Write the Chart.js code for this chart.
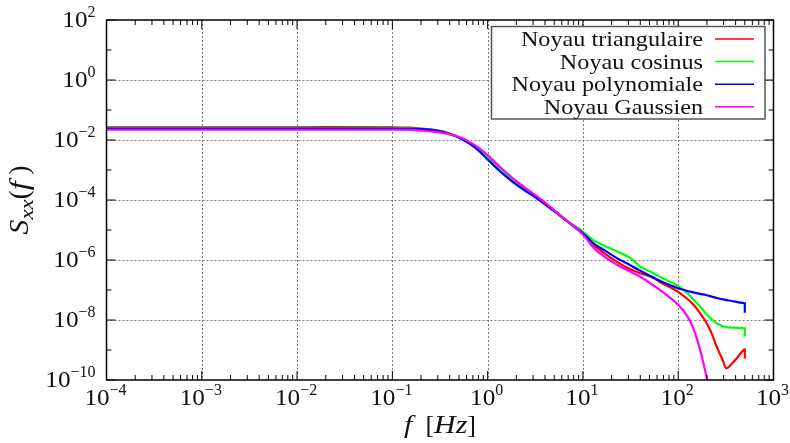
<!DOCTYPE html>
<html>
<head>
<meta charset="utf-8">
<script src="https://cdn.jsdelivr.net/npm/chart.js@4.4.1/dist/chart.umd.min.js"></script>
<style>
  html, body { margin: 0; padding: 0; background: #fff; }
  canvas { display: block; }
</style>
</head>
<body>
<canvas id="c" width="790" height="443"></canvas>
<script>
// frequencies [Hz] (last one repeated: each curve ends with a short vertical drop)
const freqs = [1e-4, 1e-3, 1e-2, 0.05, 0.1, 0.15, 0.2, 0.27, 0.35, 0.45, 0.55, 0.65, 0.8, 1, 1.3, 1.8, 2.5, 3.3, 4.9, 7.3,
               10, 13, 17.7, 24, 31, 40, 55, 70, 100, 125, 145, 170, 195, 225, 253, 290, 322, 365, 410, 455, 500, 500];

const triangulaire = [2.65e-2, 2.65e-2, 2.66e-2, 2.69e-2, 2.66e-2, 2.57e-2, 2.4e-2, 2.19e-2, 1.86e-2, 1.41e-2, 1.07e-2, 7.9e-3,
                      5.0e-3, 2.75e-3, 1.26e-3, 5.0e-4, 2.34e-4, 1.26e-4, 4.7e-5, 1.7e-5, 8.5e-6, 3.2e-6, 1.48e-6, 7.9e-7,
                      5.0e-7, 3.6e-7, 2.5e-7, 1.58e-7, 8.7e-8, 5.0e-8, 3.2e-8, 1.66e-8, 8.7e-9, 3.5e-9, 1.29e-9, 5.0e-10,
                      2.45e-10, 3.5e-10, 5.2e-10, 7.9e-10, 1.05e-9, 5.2e-10];
const cosinus = [2.5e-2, 2.5e-2, 2.5e-2, 2.52e-2, 2.5e-2, 2.46e-2, 2.34e-2, 2.16e-2, 1.85e-2, 1.41e-2, 1.07e-2, 7.9e-3,
                 5.0e-3, 2.75e-3, 1.26e-3, 5.0e-4, 2.34e-4, 1.26e-4, 4.7e-5, 1.7e-5, 8.7e-6, 4.5e-6, 2.75e-6, 1.78e-6,
                 1.2e-6, 6.0e-7, 3.6e-7, 2.4e-7, 1.35e-7, 7.9e-8, 4.7e-8, 2.8e-8, 1.66e-8, 1.05e-8, 7.9e-9, 6.3e-9,
                 5.75e-9, 5.6e-9, 5.5e-9, 5.4e-9, 5.25e-9, 2.8e-9];
const polynomiale = [2.38e-2, 2.38e-2, 2.38e-2, 2.38e-2, 2.38e-2, 2.35e-2, 2.3e-2, 2.14e-2, 1.82e-2, 1.38e-2, 1.02e-2, 7.4e-3,
                     4.5e-3, 2.24e-3, 1.0e-3, 4.2e-4, 2.0e-4, 1.12e-4, 4.4e-5, 1.66e-5, 7.8e-6, 3.55e-6, 1.9e-6, 1.05e-6,
                     6.8e-7, 4.4e-7, 2.6e-7, 1.78e-7, 1.15e-7, 9.3e-8, 8.3e-8, 7.4e-8, 6.8e-8, 6.0e-8, 5.4e-8, 4.9e-8,
                     4.6e-8, 4.3e-8, 4.0e-8, 3.8e-8, 3.6e-8, 1.74e-8];
const gaussien = [2.2e-2, 2.2e-2, 2.2e-2, 2.2e-2, 2.2e-2, 2.16e-2, 2.05e-2, 1.9e-2, 1.7e-2, 1.41e-2, 1.12e-2, 8.5e-3,
                  5.6e-3, 3.16e-3, 1.41e-3, 5.6e-4, 2.5e-4, 1.32e-4, 4.8e-5, 1.66e-5, 7.1e-6, 2.5e-6, 1.15e-6, 6.3e-7,
                  4.2e-7, 2.75e-7, 1.41e-7, 8.3e-8, 3.2e-8, 1.32e-8, 5.0e-9, 1.0e-9, 1.6e-10, 2e-11, 4e-12, 5e-13,
                  1e-13, 2e-14, 5e-15, 1e-15, 3e-16, 1e-16];

const seriesNames = ['Noyau triangulaire', 'Noyau cosinus', 'Noyau polynomiale', 'Noyau Gaussien'];
const seriesValues = [triangulaire, cosinus, polynomiale, gaussien];
const seriesColors = ['#ff0000', '#00ff00', '#0000ff', '#ff00ff'];

// decade exponents used for tick labels
const xTickExps = [-4, -3, -2, -1, 0, 1, 2, 3];
const yTickExps = [-10, -8, -6, -4, -2, 0, 2];

const SERIF = '"Liberation Serif", "DejaVu Serif", serif';

// text pieces ({t, size, italic, dy, sx}) laid out one after the other
function pieceWidth(ctx, p) {
    ctx.font = `${p.italic ? 'italic ' : ''}${p.size}px ${SERIF}`;
    return ctx.measureText(p.t).width * (p.sx || 1);
}
function richWidth(ctx, parts) {
    return parts.reduce((w, p) => w + pieceWidth(ctx, p), 0);
}
function drawRich(ctx, parts, x, y) {
    parts.forEach(p => {
        const w = pieceWidth(ctx, p);
        ctx.save();
        ctx.translate(x, y + (p.dy || 0));
        ctx.scale(p.sx || 1, 1);
        ctx.fillText(p.t, 0, 0);
        ctx.restore();
        x += w;
    });
}
function powerParts(e) {
    const exp = e < 0 ? '\u2212' + (-e) : String(e);
    return [{ t: '10', size: 24, sx: 1.05 }, { t: exp, size: 16, dy: -10 }];
}

function line(ctx, x1, y1, x2, y2) {
    ctx.beginPath();
    ctx.moveTo(x1, y1);
    ctx.lineTo(x2, y2);
    ctx.stroke();
}

const gnuplotLook = {
    id: 'gnuplotLook',
    beforeDraw(chart) {
        const { ctx, chartArea: a, scales: { x, y } } = chart;
        ctx.save();
        ctx.fillStyle = '#fff';
        ctx.fillRect(0, 0, chart.width, chart.height);
        // dotted grid
        ctx.strokeStyle = '#7a7a7a';
        ctx.lineWidth = 1;
        ctx.setLineDash([2, 2]);
        xTickExps.slice(1, -1).forEach(e => {
            const px = Math.round(x.getPixelForValue(Math.pow(10, e))) + 0.5;
            line(ctx, px, a.top, px, a.bottom);
        });
        yTickExps.slice(1, -1).forEach(e => {
            const py = Math.round(y.getPixelForValue(Math.pow(10, e))) + 0.5;
            line(ctx, a.left, py, a.right, py);
        });
        ctx.restore();
    },
    afterDraw(chart) {
        const { ctx, chartArea: a, scales: { x, y } } = chart;
        ctx.save();
        ctx.strokeStyle = '#000';
        ctx.lineWidth = 1;
        // x ticks (decades + minor 2..9), bottom and top, pointing inward
        for (let e = -4; e <= 3; e++) {
            const px = x.getPixelForValue(Math.pow(10, e));
            line(ctx, px, a.bottom, px, a.bottom - 9);
            line(ctx, px, a.top, px, a.top + 9);
            if (e < 3) {
                for (let m = 2; m <= 9; m++) {
                    const pm = x.getPixelForValue(m * Math.pow(10, e));
                    line(ctx, pm, a.bottom, pm, a.bottom - 5);
                    line(ctx, pm, a.top, pm, a.top + 5);
                }
            }
        }
        // y ticks every decade, labelled ones longer
        for (let e = -10; e <= 2; e++) {
            const py = y.getPixelForValue(Math.pow(10, e));
            const len = e % 2 === 0 ? 9 : 5;
            line(ctx, a.left, py, a.left + len, py);
            line(ctx, a.right, py, a.right - len, py);
        }
        // frame
        ctx.lineWidth = 1.5;
        ctx.strokeRect(a.left, a.top, a.right - a.left, a.bottom - a.top);

        // tick labels
        ctx.fillStyle = '#111';
        ctx.textBaseline = 'alphabetic';
        ctx.textAlign = 'left';
        xTickExps.forEach(e => {
            const parts = powerParts(e);
            const w = richWidth(ctx, parts);
            const px = x.getPixelForValue(Math.pow(10, e));
            drawRich(ctx, parts, px - w / 2 - 1, a.bottom + 25);
        });
        yTickExps.forEach(e => {
            const parts = powerParts(e);
            const w = richWidth(ctx, parts);
            const py = y.getPixelForValue(Math.pow(10, e));
            drawRich(ctx, parts, a.left - 11 - w, py + 7);
        });

        // x title: f [Hz]
        const xt = [{ t: 'f', size: 26, italic: true, sx: 1.15 }, { t: '  [', size: 26 },
                    { t: 'Hz', size: 26, italic: true, sx: 1.15 }, { t: ']', size: 26 }];
        drawRich(ctx, xt, (a.left + a.right) / 2 - richWidth(ctx, xt) / 2, 433);

        // y title: S_xx(f)
        const yt = [{ t: 'S', size: 27, italic: true, sx: 1.1 }, { t: 'xx', size: 19, italic: true, dy: 5, sx: 1.2 },
                    { t: '(', size: 27 }, { t: 'f', size: 27, italic: true, sx: 1.2 }, { t: ' )', size: 27 }];
        ctx.save();
        ctx.translate(28, (a.top + a.bottom) / 2);
        ctx.rotate(-Math.PI / 2);
        drawRich(ctx, yt, -richWidth(ctx, yt) / 2, 0);
        ctx.restore();

        // legend box
        const bx = 491.5, by = 26.5, bw = 273.5, bh = 92.5;
        ctx.fillStyle = '#fff';
        ctx.fillRect(bx, by, bw, bh);
        ctx.strokeStyle = '#555';
        ctx.lineWidth = 1.5;
        ctx.strokeRect(bx, by, bw, bh);
        ctx.fillStyle = '#111';
        seriesNames.forEach((name, i) => {
            const ry = 39 + i * 22.6;
            const parts = [{ t: name, size: 22, sx: 1.1 }];
            drawRich(ctx, parts, 703 - richWidth(ctx, parts), ry + 7);
            ctx.strokeStyle = seriesColors[i];
            ctx.lineWidth = 1.5;
            line(ctx, 715, ry, 754, ry);
        });
        ctx.restore();
    }
};

const datasets = seriesNames.map((name, i) => ({
    label: name,
    data: freqs.map((f, k) => ({ x: f, y: seriesValues[i][k] })),
    borderColor: seriesColors[i],
    backgroundColor: seriesColors[i],
    borderWidth: 2.2,
    pointRadius: 0,
    fill: false,
    cubicInterpolationMode: 'monotone',
    order: seriesNames.length - i
}));

new Chart(document.getElementById('c'), {
    type: 'line',
    data: { datasets },
    options: {
        responsive: false,
        animation: false,
        events: [],
        layout: { padding: { left: 106.5, right: 16.5, top: 20, bottom: 63 } },
        plugins: { legend: { display: false }, tooltip: { enabled: false } },
        scales: {
            x: { type: 'logarithmic', min: 1e-4, max: 1e3, display: false },
            y: { type: 'logarithmic', min: 1e-10, max: 1e2, display: false }
        }
    },
    plugins: [gnuplotLook]
});
</script>
</body>
</html>
